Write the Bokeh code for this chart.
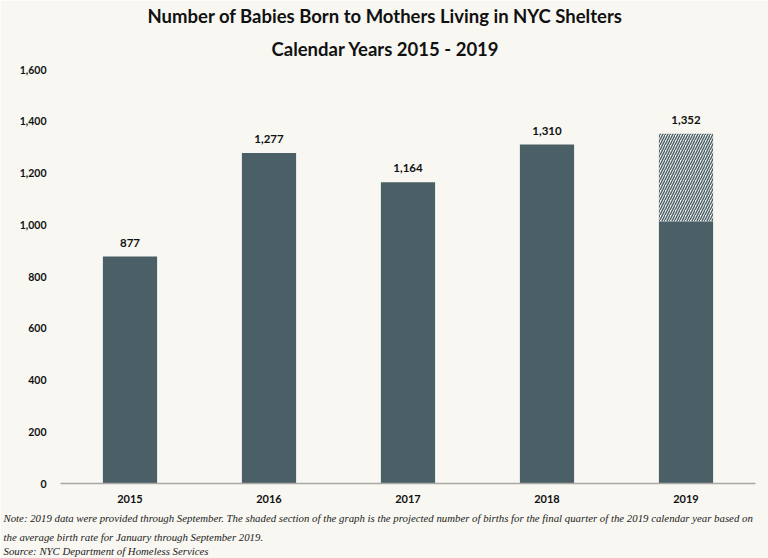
from bokeh.plotting import figure
from bokeh.models import ColumnDataSource, Title, Range1d, FactorRange, FixedTicker, CustomJSTickFormatter
from bokeh.core.properties import value
from bokeh.embed import file_html
from bokeh.resources import INLINE

years = ["2015", "2016", "2017", "2018", "2019"]
births = [877, 1277, 1164, 1310, 1014]
totals = [877, 1277, 1164, 1310, 1352]
value_labels = ["877", "1,277", "1,164", "1,310", "1,352"]
proj_year = ["2019"]
proj_bottom = [1014]
proj_top = [1352]
yticks = [0, 200, 400, 600, 800, 1000, 1200, 1400, 1600]

title1 = "Number of Babies Born to Mothers Living in NYC Shelters"
title2 = "Calendar Years 2015 - 2019"
note1 = ("Note: 2019 data were provided through September. The shaded section of the graph is the projected "
         "number of births for the final quarter of the 2019 calendar year based on")
note2 = "the average birth rate for January through September 2019."
note3 = "Source: NYC Department of Homeless Services"

BG = "#f8f7f1"
BAR = "#4a5f66"
W, H = 768, 558
L, R, T, B = 60, 13, 69, 75

p = figure(width=W, height=H, x_range=FactorRange(*years, range_padding=0),
           y_range=Range1d(0, 1600), output_backend="svg", toolbar_location=None,
           min_border_left=L, min_border_right=R, min_border_top=T, min_border_bottom=B,
           background_fill_color=BG, border_fill_color=BG, outline_line_color=None)

src = ColumnDataSource(dict(x=years, top=births, total=totals, lab=value_labels))
p.vbar(x="x", top="top", width=0.39, source=src, fill_color=BAR, line_color=None)

psrc = ColumnDataSource(dict(x=proj_year, bottom=proj_bottom, top=proj_top))
p.vbar(x="x", bottom="bottom", top="top", width=0.39, source=psrc, fill_color="#f1f2f0",
       line_color=None, hatch_pattern="/", hatch_color=BAR, hatch_scale=5, hatch_weight=1.4)

p.text(x="x", y="total", text="lab", source=src, text_align="center", text_baseline="bottom",
       y_offset=-10, text_font=value("Lato"), text_font_style="bold", text_font_size="11.5px",
       text_color="#111111")

p.xgrid.visible = False
p.ygrid.visible = False

p.yaxis.ticker = FixedTicker(ticks=yticks)
p.yaxis.formatter = CustomJSTickFormatter(code="return tick.toLocaleString('en-US');")
p.yaxis.axis_line_color = None
p.yaxis.major_tick_line_color = None
p.yaxis.minor_tick_line_color = None
p.yaxis.major_label_standoff = 8
p.yaxis.major_label_text_font = "Lato"
p.yaxis.major_label_text_font_style = "bold"
p.yaxis.major_label_text_font_size = "10.5px"
p.yaxis.major_label_text_color = "#111111"

p.xaxis.axis_line_color = "#a8a8a8"
p.xaxis.axis_line_width = 1.5
p.xaxis.major_tick_line_color = None
p.xaxis.minor_tick_line_color = None
p.xaxis.major_label_standoff = 5
p.xaxis.major_label_text_font = "Lato"
p.xaxis.major_label_text_font_style = "bold"
p.xaxis.major_label_text_font_size = "11px"
p.xaxis.major_label_text_color = "#111111"

# titles above (first added = nearest the frame); left aligned with offsets to centre at x≈384
for txt, so, off, lh in [(title2, 19, 211, 1.35), (title1, 0, 87, 1.0)]:
    p.add_layout(Title(text=txt, align="left", offset=off, standoff=so, text_font="Lato",
                       text_line_height=lh, text_font_style="bold", text_font_size="18.5px",
                       text_color="#111111"), "above")

# notes below (first added = nearest the axis)
for txt, so in [(note1, 9), (note2, 0), (note3, 0)]:
    p.add_layout(Title(text=txt, align="left", offset=-57, standoff=so, text_font="Liberation Serif",
                       text_line_height=1.0, text_font_style="italic", text_font_size="10.8px",
                       text_color="#222222"), "below")

open("out.html", "w").write(file_html(p, INLINE))
